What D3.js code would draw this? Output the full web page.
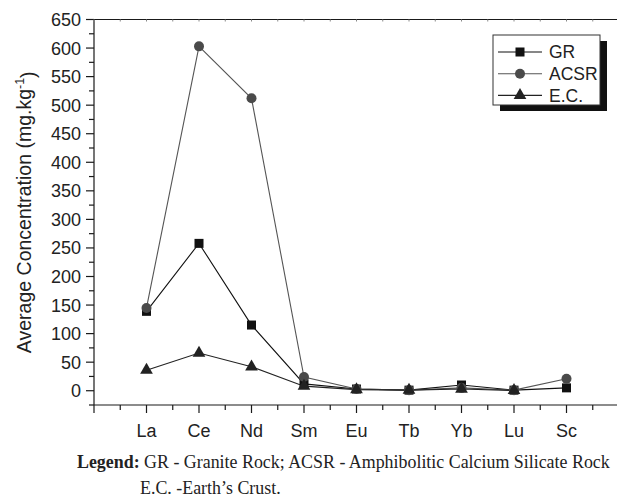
<!DOCTYPE html>
<html>
<head>
<meta charset="utf-8">
<script src="https://cdn.jsdelivr.net/npm/d3@7"></script>
<style>
  html, body { margin: 0; padding: 0; background: #fff; }
  svg { display: block; }
</style>
</head>
<body>
<div id="chart"></div>
<script>
(function () {
  'use strict';

  var elements = ['La', 'Ce', 'Nd', 'Sm', 'Eu', 'Tb', 'Yb', 'Lu', 'Sc'];
  var grValues = [139, 258, 115, 12, 3, 1, 10, 1, 5];
  var acsrValues = [145, 603, 512, 24, 3, 1, 5, 1, 21];
  var ecValues = [36, 66, 42, 8, 2, 1, 3, 0.5, null];
  var yTicks = [0, 50, 100, 150, 200, 250, 300, 350, 400, 450, 500, 550, 600, 650];

  var series = [
    { name: 'GR', values: grValues, shape: 'square', color: '#111', line: '#111' },
    { name: 'ACSR', values: acsrValues, shape: 'circle', color: '#4a4a4a', line: '#555' },
    { name: 'E.C.', values: ecValues, shape: 'triangle', color: '#222', line: '#222' }
  ];

  var width = 617,
    height = 501;

  var svg = d3.select('#chart').append('svg')
    .attr('width', width)
    .attr('height', height)
    .style('font-family', 'Arial, "Liberation Sans", sans-serif');

  // index 0 is the axis start, elements sit at 1..9
  var x = d3.scaleLinear().domain([0, 11]).range([94, 94 + 11 * 52.5]);
  var y = d3.scaleLinear().domain([-25, 650]).range([405, 19.5]);

  var xMajor = d3.range(0, 12),
    xMinor = d3.range(0.5, 11, 1),
    yMinor = d3.range(-25, 650, 50);

  var axisColor = '#1a1a1a';

  // left axis
  var left = svg.append('g').attr('transform', 'translate(' + x(0) + ',0)');
  left.append('line')
    .attr('y1', y(-25)).attr('y2', y(650))
    .attr('stroke', axisColor).attr('stroke-width', 1.2);
  left.selectAll('.ymaj').data(yTicks).enter().append('line')
    .attr('x1', -8).attr('x2', 0)
    .attr('y1', function (d) { return y(d); })
    .attr('y2', function (d) { return y(d); })
    .attr('stroke', axisColor).attr('stroke-width', 1.2);
  left.selectAll('.ymin').data(yMinor).enter().append('line')
    .attr('x1', -5).attr('x2', 0)
    .attr('y1', function (d) { return y(d); })
    .attr('y2', function (d) { return y(d); })
    .attr('stroke', axisColor).attr('stroke-width', 1.2);
  left.selectAll('text').data(yTicks).enter().append('text')
    .attr('x', -13)
    .attr('y', function (d) { return y(d); })
    .attr('dy', '0.36em')
    .attr('text-anchor', 'end')
    .attr('font-size', 18)
    .attr('fill', '#222')
    .text(function (d) { return d; });

  // bottom axis
  var bottom = svg.append('g').attr('transform', 'translate(0,' + y(-25) + ')');
  bottom.append('line')
    .attr('x1', x(0)).attr('x2', width)
    .attr('stroke', axisColor).attr('stroke-width', 1.2);
  bottom.selectAll('.xmaj').data(xMajor).enter().append('line')
    .attr('x1', function (d) { return x(d); })
    .attr('x2', function (d) { return x(d); })
    .attr('y1', 0).attr('y2', 8)
    .attr('stroke', axisColor).attr('stroke-width', 1.2);
  bottom.selectAll('.xmin').data(xMinor).enter().append('line')
    .attr('x1', function (d) { return x(d); })
    .attr('x2', function (d) { return x(d); })
    .attr('y1', 0).attr('y2', 5)
    .attr('stroke', axisColor).attr('stroke-width', 1.2);
  bottom.selectAll('text').data(elements).enter().append('text')
    .attr('x', function (d, i) { return x(i + 1); })
    .attr('y', 32)
    .attr('text-anchor', 'middle')
    .attr('font-size', 18)
    .attr('fill', '#222')
    .text(function (d) { return d; });

  // top frame with tiny ticks
  var top = svg.append('g').attr('transform', 'translate(0,' + y(650) + ')');
  top.append('line')
    .attr('x1', x(0)).attr('x2', width)
    .attr('stroke', axisColor).attr('stroke-width', 1.2);
  top.selectAll('line.t').data(xMajor.concat(xMinor)).enter().append('line')
    .attr('class', 't')
    .attr('x1', function (d) { return x(d); })
    .attr('x2', function (d) { return x(d); })
    .attr('y1', 0).attr('y2', 2)
    .attr('stroke', '#888').attr('stroke-width', 1);

  // y axis title
  var yTitle = svg.append('text')
    .attr('transform', 'translate(31,' + ((y(-25) + y(650)) / 2) + ') rotate(-90)')
    .attr('text-anchor', 'middle')
    .attr('font-size', 19.5)
    .attr('fill', '#222');
  yTitle.append('tspan').text('Average Concentration (mg.kg');
  yTitle.append('tspan').attr('dy', '-0.55em').attr('font-size', 12.5).text('-1');
  yTitle.append('tspan').attr('dy', '0.55em').text(')');

  function drawMarker(sel, shape, color) {
    if (shape === 'circle') {
      sel.append('circle').attr('r', 5).attr('fill', color);
    } else if (shape === 'square') {
      sel.append('rect')
        .attr('x', -4.5).attr('y', -4.5)
        .attr('width', 9).attr('height', 9)
        .attr('fill', color);
    } else {
      sel.append('path')
        .attr('d', d3.symbol().type(d3.symbolTriangle).size(70)())
        .attr('fill', color);
    }
  }

  var line = d3.line()
    .defined(function (d) { return d != null; })
    .x(function (d, i) { return x(i + 1); })
    .y(function (d) { return y(d); });

  series.forEach(function (s) {
    svg.append('path')
      .attr('d', line(s.values))
      .attr('fill', 'none')
      .attr('stroke', s.line)
      .attr('stroke-width', 1.1);
  });

  series.forEach(function (s) {
    var pts = svg.append('g').selectAll('g')
      .data(s.values.map(function (v, i) { return { v: v, i: i }; })
        .filter(function (d) { return d.v != null; }))
      .enter().append('g')
      .attr('transform', function (d) {
        return 'translate(' + x(d.i + 1) + ',' + y(d.v) + ')';
      });
    drawMarker(pts, s.shape, s.color);
  });

  // legend box with drop shadow
  var lg = svg.append('g').attr('transform', 'translate(493,35)');
  lg.append('rect')
    .attr('x', 7).attr('y', 6)
    .attr('width', 107).attr('height', 70)
    .attr('fill', '#111');
  lg.append('rect')
    .attr('width', 107).attr('height', 70)
    .attr('fill', '#fff')
    .attr('stroke', '#333').attr('stroke-width', 1);

  var rows = lg.selectAll('g.row').data(series).enter().append('g')
    .attr('class', 'row')
    .attr('transform', function (d, i) { return 'translate(0,' + (17 + i * 21.7) + ')'; });
  rows.append('line')
    .attr('x1', 5).attr('x2', 49)
    .attr('stroke', function (d) { return d.line; })
    .attr('stroke-width', 1.1);
  rows.each(function (d) {
    drawMarker(d3.select(this).append('g').attr('transform', 'translate(27,0)'), d.shape, d.color);
  });
  rows.append('text')
    .attr('x', 56)
    .attr('dy', '0.36em')
    .attr('font-size', 17.5)
    .attr('fill', '#222')
    .text(function (d) { return d.name; });

  // caption
  var cap = svg.append('g')
    .style('font-family', '"Liberation Serif", "Times New Roman", serif')
    .attr('font-size', 17.9)
    .attr('fill', '#222');
  var c1 = cap.append('text').attr('x', 77).attr('y', 468);
  c1.append('tspan').attr('font-weight', 'bold').text('Legend:');
  c1.append('tspan').text(' GR - Granite Rock; ACSR - Amphibolitic Calcium Silicate Rock');
  cap.append('text').attr('x', 140).attr('y', 494).text('E.C. -Earth\u2019s Crust.');
})();
</script>
</body>
</html>
